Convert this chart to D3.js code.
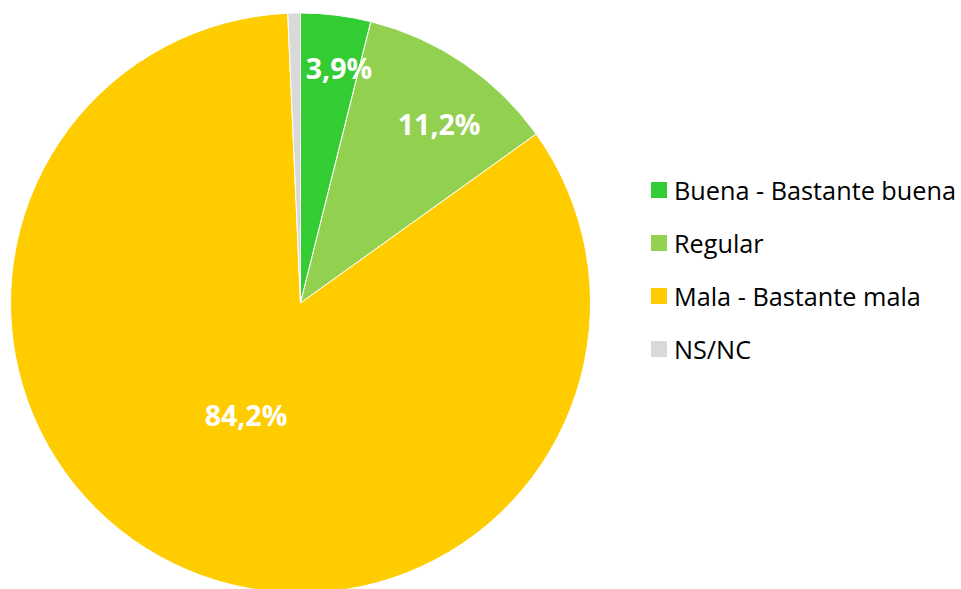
<!DOCTYPE html>
<html>
<head>
<meta charset="utf-8">
<script src="https://cdn.jsdelivr.net/npm/d3@7"></script>
<style>
  html, body { margin: 0; padding: 0; background: #fff; }
  #chart { width: 961px; height: 589px; }
</style>
</head>
<body>
<div id="chart"></div>
<script>
// data
const categories = ['Buena - Bastante buena', 'Regular', 'Mala - Bastante mala', 'NS/NC']
const values = [3.9, 11.2, 84.2, 0.7]
const labels = ['3,9%', '11,2%', '84,2%', '']
const colors = ['#33cc33', '#92d050', '#ffcc00', '#d9d9d9']

const width = 961
const height = 589
const cx = 300.5
const cy = 303
const radius = 290

// label placement: fraction of the radius + angle nudge (Excel "best fit" look)
const labelRadius = [0.82, 0.78, 0.43, 0.8]
const labelTurn = [0.04, 0.063, 0, 0]

const svg = d3.select('#chart').append('svg')
  .attr('width', width)
  .attr('height', height)

const plot = svg.append('g')
  .attr('transform', `translate(${cx}, ${cy})`)

const data = categories.map((name, i) => ({ name, value: values[i], label: labels[i], i }))

const pie = d3.pie()
  .sort(null)
  .value(d => d.value)

const arc = d3.arc().innerRadius(0).outerRadius(radius)

const slices = pie(data)

plot.selectAll('path')
  .data(slices)
  .enter()
  .append('path')
  .attr('d', arc)
  .attr('fill', d => colors[d.data.i])
  .attr('stroke', '#fff')
  .attr('stroke-width', 1)

plot.selectAll('text.label')
  .data(slices.filter(d => d.data.label))
  .enter()
  .append('text')
  .attr('class', 'label')
  .attr('transform', d => {
    const r = radius * labelRadius[d.data.i]
    const a = (d.startAngle + d.endAngle) / 2 + labelTurn[d.data.i]
    return `translate(${r * Math.sin(a)}, ${-r * Math.cos(a)})`
  })
  .attr('text-anchor', 'middle')
  .attr('dominant-baseline', 'central')
  .attr('fill', '#fff')
  .attr('font-family', 'Open Sans, sans-serif')
  .attr('font-weight', 'bold')
  .attr('font-size', '28.5px')
  .text(d => d.data.label)

// legend
const legendY = d3.scalePoint()
  .domain(categories)
  .range([190, 349])

const legend = svg.append('g')
  .selectAll('g')
  .data(data)
  .enter()
  .append('g')
  .attr('transform', d => `translate(651, ${legendY(d.name)})`)

legend.append('rect')
  .attr('x', 0)
  .attr('y', -8)
  .attr('width', 16)
  .attr('height', 16)
  .attr('fill', d => colors[d.i])

const legendText = legend.append('text')
  .attr('x', 23)
  .attr('y', 0)
  .attr('dominant-baseline', 'central')
  .attr('fill', '#000')
  .attr('font-family', 'Open Sans, sans-serif')
  .attr('font-size', '20px')
  .text(d => d.name)

// fit the legend font to the width of the original (Calibri is narrow)
const w0 = legendText.nodes()[0].getComputedTextLength()
legendText.attr('font-size', (20 * 282 / w0).toFixed(2) + 'px')
</script>
</body>
</html>
